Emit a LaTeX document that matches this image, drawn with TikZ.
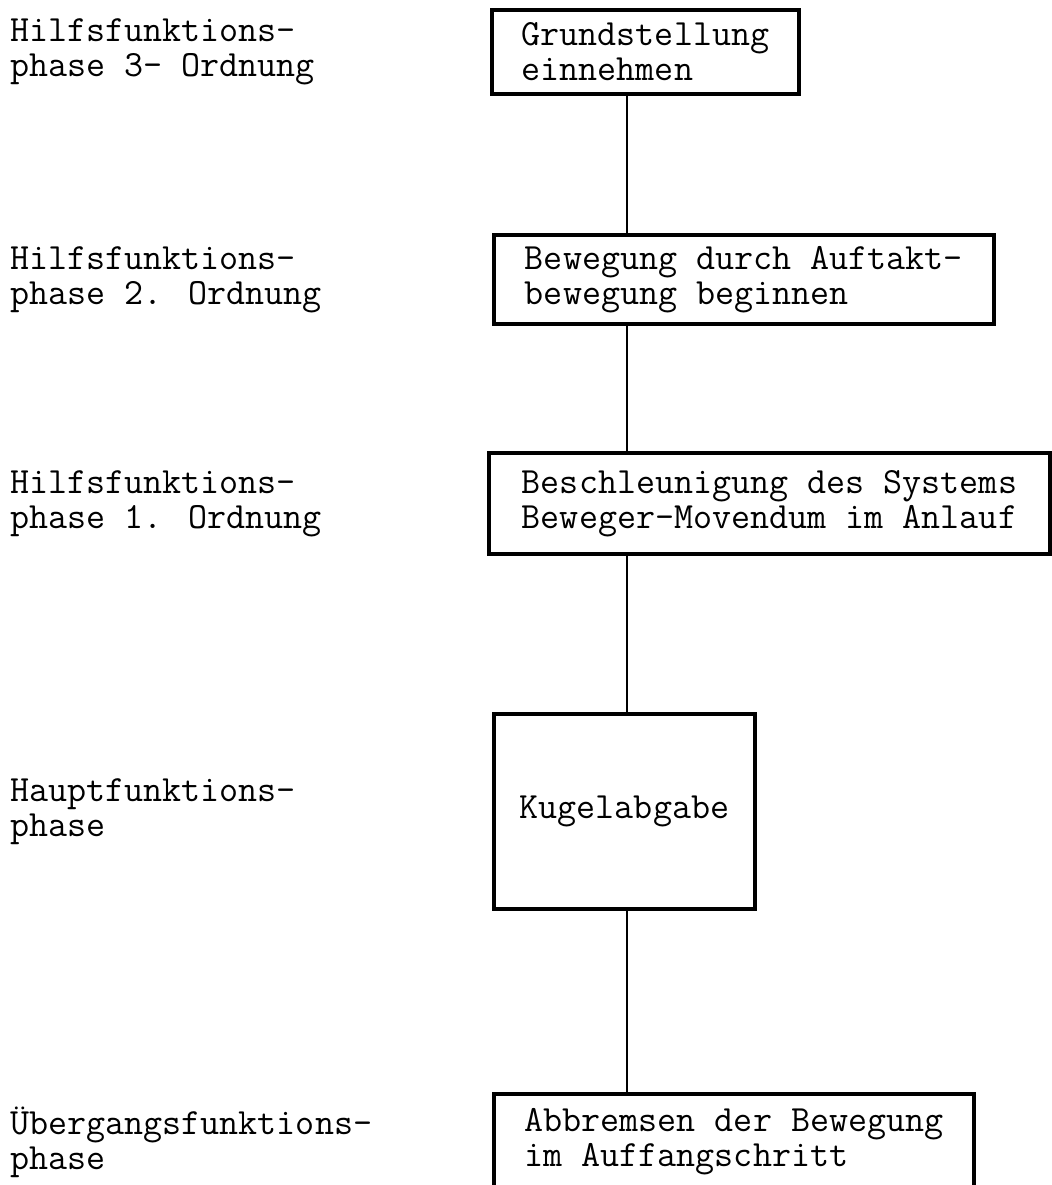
\documentclass[tikz,border=0pt]{standalone}
\usepackage{fontspec}
\usepackage{tikz}
\usetikzlibrary{calc}

\newcommand\pxu{0.025cm}
\newcommand\phasefont{\ttfamily\addfontfeatures{FakeBold=0.6}\fontsize{26.3}{24.9}\selectfont}

\begin{document}
\begin{tikzpicture}[
    x=0.025cm, y=-0.025cm,
    box/.style={draw, line width=2.8pt, anchor=north west, align=left,
                inner sep=0pt, font=\phasefont},
    lbl/.style={anchor=west, align=left, inner sep=0pt, font=\phasefont},
    link/.style={line width=2pt},
  ]
  \useasboundingbox (0,0) rectangle (1052,1185);
  \coordinate (spine) at (627,0);
  \coordinate (margin) at (10,0);

  % Phase boxes (right column)
  \node[box, minimum width=307*\pxu, minimum height=84*\pxu] (grund) at (490,8)
        {Grundstellung\\einnehmen};
  \node[box, minimum width=500*\pxu, minimum height=89*\pxu] (auftakt) at (492,233)
        {Bewegung durch Auftakt-\\bewegung beginnen};
  \node[box, minimum width=561*\pxu, minimum height=101*\pxu] (anlauf) at (487,451)
        {Beschleunigung des Systems\\Beweger-Movendum im Anlauf};
  \node[box, minimum width=261*\pxu, minimum height=195*\pxu] (abgabe) at (492,712)
        {Kugelabgabe};
  \node[box, minimum width=480*\pxu, minimum height=96*\pxu] (auffang) at (492,1092)
        {Abbremsen der Bewegung\\im Auffangschritt};

  % Phase names (left column)
  \node[lbl] (hilf3) at (grund.west -| margin) {Hilfsfunktions-\\phase 3- Ordnung};
  \node[lbl] (hilf2) at (auftakt.west -| margin) {Hilfsfunktions-\\phase 2. Ordnung};
  \node[lbl] (hilf1) at (anlauf.west -| margin) {Hilfsfunktions-\\phase 1. Ordnung};
  \node[lbl] (haupt) at (abgabe.west -| margin) {Hauptfunktions-\\phase};
  \node[lbl] (ueber) at (auffang.west -| margin) {Übergangsfunktions-\\phase};

  % Vertical chain
  \draw[link] (grund.south -| spine) -- (auftakt.north -| spine);
  \draw[link] (auftakt.south -| spine) -- (anlauf.north -| spine);
  \draw[link] (anlauf.south -| spine) -- (abgabe.north -| spine);
  \draw[link] (abgabe.south -| spine) -- (auffang.north -| spine);
\end{tikzpicture}
\end{document}
